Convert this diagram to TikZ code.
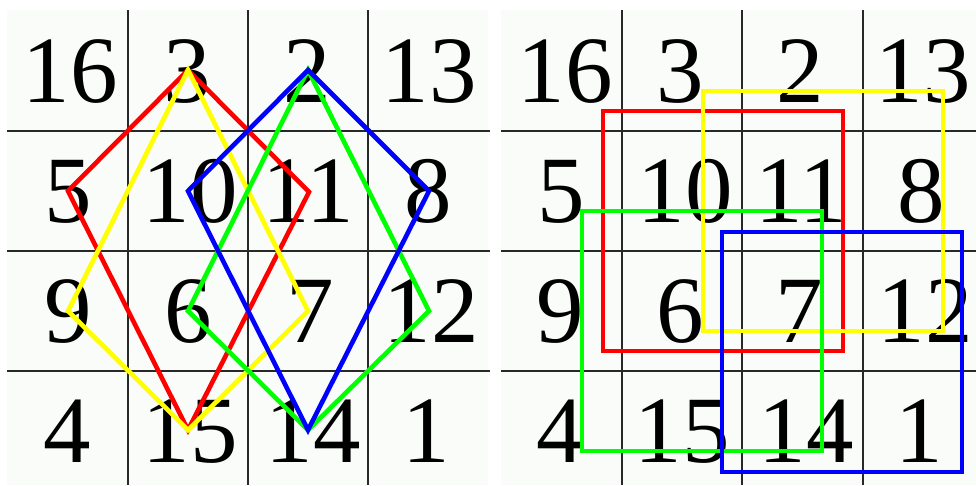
\documentclass[tikz,border=0pt]{standalone}
\usepackage{fontspec}
\setmainfont{Liberation Serif}
\definecolor{bgcell}{RGB}{249,252,249}
\definecolor{gridc}{RGB}{40,40,40}
\definecolor{pr}{RGB}{255,0,0}
\definecolor{py}{RGB}{255,255,0}
\definecolor{pg}{RGB}{0,255,0}
\definecolor{pb}{RGB}{0,0,255}
\tikzset{
  num/.style={anchor=base, inner sep=0pt, font=\fontsize{95}{95}\selectfont},
  gridline/.style={draw=gridc, line width=1.6pt},
  shapeline/.style={line width=4.6pt, line join=miter}
}
\begin{document}
\begin{tikzpicture}[x=1pt,y=-1pt]
\useasboundingbox (0,0) rectangle (976,485);
\fill[white] (0,0) rectangle (976,485);
% backgrounds
\fill[bgcell] (7,10) rectangle (488,485);
\fill[bgcell] (501,10) rectangle (976,485);
% left grid
\foreach \x in {128,248,368} \draw[gridline] (\x,10) -- (\x,485);
\foreach \y in {131,251,371} \draw[gridline] (7,\y) -- (490,\y);
% right grid
\foreach \x in {622,742,863} \draw[gridline] (\x,10) -- (\x,485);
\foreach \y in {131,251,371} \draw[gridline] (501,\y) -- (976,\y);
% numbers, left
\node[num] (L16) at (70,102) {16};
\node[num] (L3)  at (187,102) {3};
\node[num] (L2)  at (307,102) {2};
\node[num] (L13) at (429,102) {13};
\node[num] (L5)  at (68,222) {5};
\node[num] (L10) at (190,222) {10};
\node[num] (L11) at (308,222) {11};
\node[num] (L8)  at (428,222) {8};
\node[num] (L9)  at (68,342) {9};
\node[num] (L6)  at (188,342) {6};
\node[num] (L7)  at (310,342) {7};
\node[num] (L12) at (431,342) {12};
\node[num] (L4)  at (67,462) {4};
\node[num] (L15) at (190,462) {15};
\node[num] (L14) at (313,462) {14};
\node[num] (L1)  at (426,462) {1};
% numbers, right
\node[num] (R16) at (565,102) {16};
\node[num] (R3)  at (680,102) {3};
\node[num] (R2)  at (800,102) {2};
\node[num] (R13) at (923,102) {13};
\node[num] (R5)  at (561,222) {5};
\node[num] (R10) at (685,222) {10};
\node[num] (R11) at (801,222) {11};
\node[num] (R8)  at (921,222) {8};
\node[num] (R9)  at (560,342) {9};
\node[num] (R6)  at (680,342) {6};
\node[num] (R7)  at (799,342) {7};
\node[num] (R12) at (925,342) {12};
\node[num] (R4)  at (560,462) {4};
\node[num] (R15) at (682,462) {15};
\node[num] (R14) at (806,462) {14};
\node[num] (R1)  at (919,462) {1};
% cell centre coordinates (left)
\coordinate (c3)  at (188,70);
\coordinate (c2)  at (308,70);
\coordinate (c5)  at (68,191);
\coordinate (c10) at (188,191);
\coordinate (c11) at (309,192);
\coordinate (c8)  at (429,191);
\coordinate (c9)  at (68,311);
\coordinate (c6)  at (188,311);
\coordinate (c7)  at (308,311);
\coordinate (c12) at (429,311);
\coordinate (c15) at (188,430);
\coordinate (c14) at (308,430);
% diamonds
\draw[shapeline, pr] (c3) -- (c11) -- (c15) -- (c5) -- cycle;
\draw[shapeline, py] (c3) -- (c7) -- (c15) -- (c9) -- cycle;
\draw[shapeline, pg] (c2) -- (c12) -- (c14) -- (c6) -- cycle;
\draw[shapeline, pb] (c2) -- (c8) -- (c14) -- (c10) -- cycle;
% squares
\draw[shapeline, pr] (603,111) rectangle (843,351);
\draw[shapeline, py] (703,91) rectangle (943,331);
\draw[shapeline, pg] (582,211) rectangle (822,451);
\draw[shapeline, pb] (722,232) rectangle (962,472);
\end{tikzpicture}
\end{document}
